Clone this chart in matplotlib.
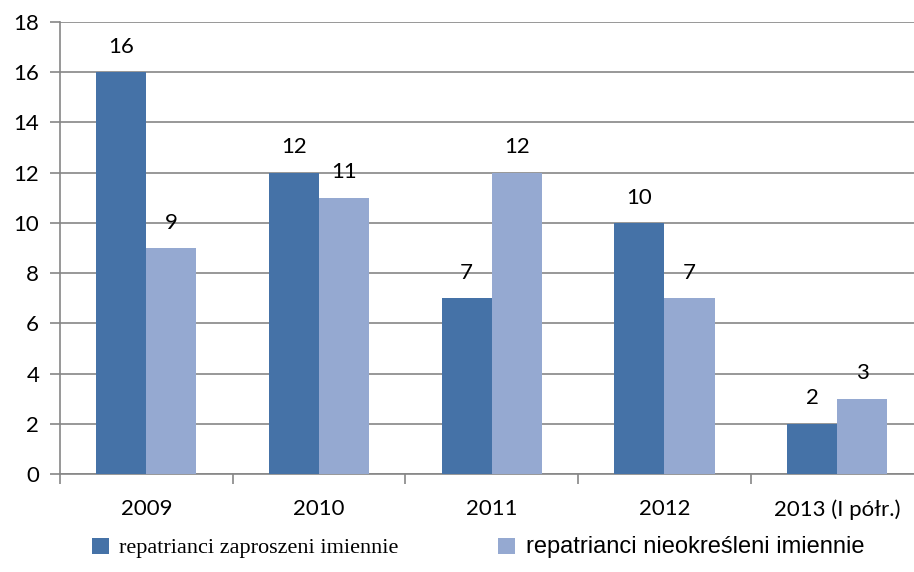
import matplotlib.pyplot as plt
import numpy as np

# data
years = ['2009', '2010', '2011', '2012', '2013 (I półr.)']
zaproszeni = [16, 12, 7, 10, 2]
nieokresleni = [9, 11, 12, 7, 3]
labels = ['repatrianci zaproszeni imiennie', 'repatrianci nieokreśleni imiennie']

dark = '#4572A7'
light = '#95A9D1'
grey = '#868686'

plt.rcParams['font.family'] = ['Lato', 'DejaVu Sans']

fig = plt.figure(figsize=(9.14, 5.72), dpi=100)
ax = fig.add_axes([60 / 914, 98 / 572, 1 - 60 / 914, 452 / 572])

x = np.arange(len(years))
w = 0.29
b1 = ax.bar(x - w / 2, zaproszeni, w, color=dark, label=labels[0], zorder=3)
b2 = ax.bar(x + w / 2, nieokresleni, w, color=light, label=labels[1], zorder=3)

for bars in (b1, b2):
    for r in bars:
        ax.annotate(str(int(r.get_height())),
                    (r.get_x() + r.get_width() / 2, r.get_height()),
                    xytext=(0, 11), textcoords='offset points',
                    ha='center', va='bottom', fontsize=16, color='black')

ax.set_ylim(0, 18)
ax.set_yticks(range(0, 19, 2))
ax.set_xticks(x)
ax.set_xticklabels(years)
ax.set_xticks(np.arange(-0.5, len(years), 1), minor=True)
# axis runs a little past the right edge of the picture
ax.set_xlim(-0.5, (914 - 60) / 172.7 - 0.5)

ax.grid(axis='y', color=grey, linewidth=1.2, zorder=0)
for s in ['top', 'right']:
    ax.spines[s].set_visible(False)
for s in ['left', 'bottom']:
    ax.spines[s].set_color(grey)
    ax.spines[s].set_linewidth(1.2)

ax.tick_params(axis='y', length=7, color=grey, width=1.2, labelsize=16, pad=8)
ax.tick_params(axis='x', which='major', length=0, labelsize=16, pad=18)
ax.tick_params(axis='x', which='minor', length=7, color=grey, width=1.2)

leg = fig.legend(handles=[b1, b2], loc='center', bbox_to_anchor=(0.523, 0.043),
                 ncol=2, frameon=False, handlelength=0.8, handleheight=0.8,
                 handletextpad=0.5, columnspacing=4.8, fontsize=15)
texts = leg.get_texts()
texts[0].set_fontfamily(['Liberation Serif', 'DejaVu Serif'])
texts[0].set_fontsize(16)
texts[1].set_fontfamily(['Liberation Sans Narrow', 'Liberation Sans', 'DejaVu Sans'])
texts[1].set_fontsize(17)

fig.savefig('out.png', dpi=100)
